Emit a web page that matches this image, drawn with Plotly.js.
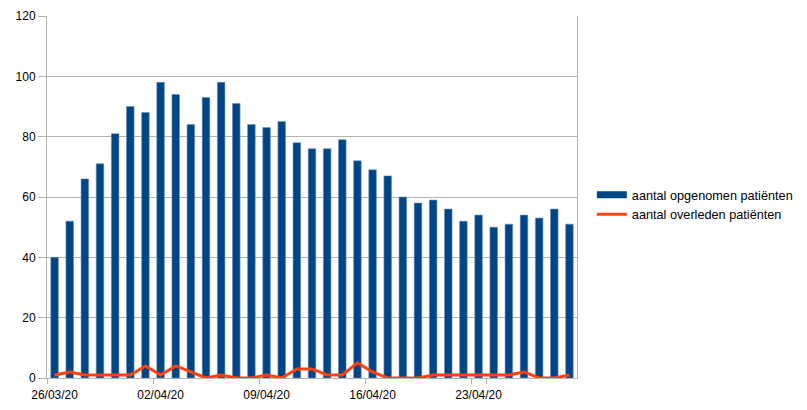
<!DOCTYPE html>
<html>
<head>
<meta charset="utf-8">
<script src="https://cdn.plot.ly/plotly-3.0.1.min.js"></script>
<style>html,body{margin:0;padding:0;background:#fff;overflow:hidden;width:807px;height:410px;}#chart{width:840px;height:410px;}</style>
</head>
<body>
<div id="chart"></div>
<script>
var dates = ["26/03/20","27/03/20","28/03/20","29/03/20","30/03/20","31/03/20","01/04/20",
  "02/04/20","03/04/20","04/04/20","05/04/20","06/04/20","07/04/20","08/04/20",
  "09/04/20","10/04/20","11/04/20","12/04/20","13/04/20","14/04/20","15/04/20",
  "16/04/20","17/04/20","18/04/20","19/04/20","20/04/20","21/04/20","22/04/20",
  "23/04/20","24/04/20","25/04/20","26/04/20","27/04/20","28/04/20","29/04/20"];
var opgenomen = [40,52,66,71,81,90,88,98,94,84,93,98,91,84,83,85,78,76,76,79,72,69,67,60,58,59,56,52,54,50,51,54,53,56,51];
var overleden = [1,2,1,1,1,1,4,1,4,2,0,1,0,0,1,0,3,3,1,1,5,2,0,0,0,1,1,1,1,1,1,2,0,0,1];
var tickLabels = ["26/03/20","02/04/20","09/04/20","16/04/20","23/04/20"];
var seriesNames = ["aantal opgenomen patiënten","aantal overleden patiënten"];

var blue = "#004586", red = "#ff420e";
var traces = [
  {type:"bar", x:dates, y:opgenomen, name:seriesNames[0], showlegend:false,
   marker:{color:blue, line:{color:"#6f8fb5", width:0.6}}, hoverinfo:"x+y"},
  {type:"scatter", mode:"lines", x:dates, y:overleden, name:seriesNames[1], showlegend:false,
   line:{color:red, width:3}},
  {type:"scatter", mode:"lines", x:[null], y:[null], name:seriesNames[0],
   line:{color:blue, width:7}},
  {type:"scatter", mode:"lines", x:[null], y:[null], name:seriesNames[1],
   line:{color:red, width:3}}
];
var layout = {
  width:840, height:410,
  margin:{l:47, r:263, t:16, b:32},
  paper_bgcolor:"#fff", plot_bgcolor:"#fff",
  font:{family:"Liberation Sans, Arial, sans-serif", size:12, color:"#000"},
  bargap:0.5,
  showlegend:true,
  legend:{x:1.028, xanchor:"left", y:0.478, yanchor:"middle", itemwidth:30,
          font:{size:12.7, color:"#000"}, tracegroupgap:0, bgcolor:"rgba(0,0,0,0)"},
  xaxis:{type:"category", tickson:"boundaries", tickmode:"array",
         tickvals:tickLabels, ticktext:tickLabels, tickangle:0, ticklabelstandoff:6,
         ticks:"outside", ticklen:5, tickcolor:"#b3b3b3",
         showline:true, linecolor:"#b3b3b3", linewidth:1,
         showgrid:false, zeroline:false, range:[-0.5,34.5], fixedrange:true},
  yaxis:{range:[0,120], dtick:20, ticks:"outside", ticklen:8, tickcolor:"#b3b3b3",
         showline:true, mirror:true, linecolor:"#b3b3b3", linewidth:1,
         showgrid:true, gridcolor:"#b3b3b3", gridwidth:1, zeroline:false, fixedrange:true}
};
Plotly.newPlot("chart", traces, layout, {displayModeBar:false, staticPlot:true});
</script>
</body>
</html>
